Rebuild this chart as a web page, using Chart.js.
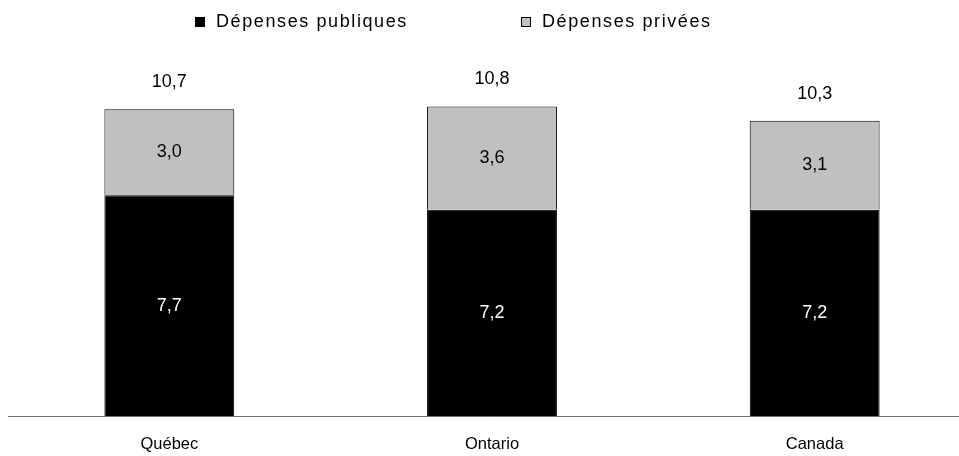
<!DOCTYPE html>
<html>
<head>
<meta charset="utf-8">
<script src="https://cdn.jsdelivr.net/npm/chart.js@4"></script>
<style>
  body { margin: 0; background: #fff; overflow: hidden; }
  #wrap { width: 959px; height: 456px; overflow: hidden; }
  canvas { display: block; }
</style>
</head>
<body>
<div id="wrap"><canvas id="chart" width="980" height="474"></canvas></div>
<script>
// données
const categories = ['Québec', 'Ontario', 'Canada'];
const publicValues = [7.7, 7.2, 7.2];
const privateValues = [3.0, 3.6, 3.1];
const totals = [10.7, 10.8, 10.3];
const seriesNames = ['Dépenses publiques', 'Dépenses privées'];

const FONT = '18px "Liberation Sans", Arial, sans-serif';
const fmt = v => v.toFixed(1).replace('.', ',');

Chart.defaults.font.family = '"Liberation Sans", Arial, sans-serif';
Chart.defaults.font.size = 16;
Chart.defaults.color = '#000';

// étiquettes des valeurs dans les barres + totaux au-dessus
const valueLabels = {
    id: 'valueLabels',
    afterDatasetsDraw(chart) {
        const ctx = chart.ctx;
        ctx.save();
        ctx.font = FONT;
        ctx.textAlign = 'center';
        ctx.textBaseline = 'middle';
        chart.data.datasets.forEach((ds, i) => {
            chart.getDatasetMeta(i).data.forEach((bar, j) => {
                ctx.fillStyle = i === 0 ? '#fff' : '#000';
                ctx.fillText(fmt(ds.data[j]), bar.x, (bar.y + bar.base) / 2);
            });
        });
        const yScale = chart.scales.y;
        ctx.fillStyle = '#000';
        chart.getDatasetMeta(1).data.forEach((bar, j) => {
            ctx.fillText(fmt(totals[j]), bar.x, yScale.getPixelForValue(totals[j]) - 27);
        });
        ctx.restore();
    }
};

// légende dessinée à la main (espacement large comme l'original)
const simpleLegend = {
    id: 'simpleLegend',
    afterDraw(chart) {
        const ctx = chart.ctx;
        const items = [
            { x: 195, fill: '#000' },
            { x: 521, fill: '#c0c0c0' }
        ];
        ctx.save();
        ctx.font = '18px "Liberation Sans", Arial, sans-serif';
        ctx.letterSpacing = '1.6px';
        ctx.textBaseline = 'middle';
        ctx.textAlign = 'left';
        items.forEach((it, i) => {
            ctx.fillStyle = it.fill;
            ctx.fillRect(it.x, 17, 10, 10);
            ctx.strokeStyle = '#000';
            ctx.lineWidth = 1;
            ctx.strokeRect(it.x + 0.5, 17.5, 9, 9);
            ctx.fillStyle = '#000';
            ctx.fillText(seriesNames[i], it.x + 21, 22.5);
        });
        ctx.restore();
    }
};

new Chart(document.getElementById('chart'), {
    type: 'bar',
    data: {
        labels: categories,
        datasets: [
            {
                label: seriesNames[0],
                data: publicValues,
                backgroundColor: '#000',
                borderColor: '#000',
                borderWidth: 1
            },
            {
                label: seriesNames[1],
                data: privateValues,
                backgroundColor: '#c0c0c0',
                borderColor: '#000',
                borderWidth: 1
            }
        ]
    },
    options: {
        responsive: false,
        animation: false,
        layout: { padding: { left: 8, right: 4, top: 72, bottom: 2 } },
        datasets: { bar: { categoryPercentage: 1, barPercentage: 0.4025 } },
        plugins: {
            legend: { display: false },
            tooltip: { enabled: false }
        },
        scales: {
            x: {
                stacked: true,
                grid: { display: false, drawTicks: false },
                border: { display: true, color: '#6e6e6e', width: 1 },
                ticks: { padding: 18, color: '#000', font: { size: 16.5 } }
            },
            y: {
                stacked: true,
                display: false,
                min: 0,
                max: 12
            }
        }
    },
    plugins: [valueLabels, simpleLegend]
});
</script>
</body>
</html>
